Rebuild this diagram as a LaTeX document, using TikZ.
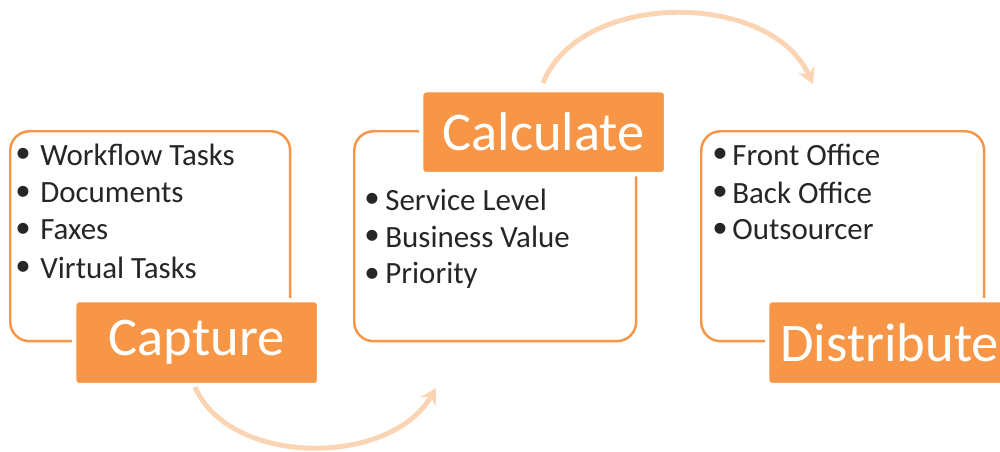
\documentclass[tikz,border=0pt]{standalone}
\usepackage{fontspec}
\setmainfont{Carlito}
\usetikzlibrary{arrows.meta}
\definecolor{orng}{HTML}{F79646}
\definecolor{peach}{HTML}{FBD4B4}
\definecolor{txt}{HTML}{262626}
\begin{document}
\begin{tikzpicture}[x=0.02cm,y=-0.02cm,
  listbox/.style={draw=orng, line width=1.4pt, rounded corners=11pt, anchor=north west, inner sep=0pt, fill=white},
  labelbox/.style={fill=orng, draw=white, line width=2.5pt, rounded corners=2.5pt, anchor=north west, inner sep=0pt, text=white, font=\fontsize{31}{37}\selectfont},
  item/.style={anchor=west, inner sep=0pt, text=txt, font=\fontsize{17.6}{21}\selectfont},
  bul/.style={anchor=center, inner sep=0pt, text=txt, font=\fontsize{17.6}{21}\selectfont},
  flow/.style={draw=peach, line width=2.8pt, -{Stealth[length=9pt,width=10pt,inset=3pt]}}]
\useasboundingbox (0,0) rectangle (1000,451);
% list boxes
\node[listbox, minimum width=5.6cm, minimum height=4.2cm] (b1) at (9,130) {};
\node[listbox, minimum width=5.64cm, minimum height=4.2cm] (b2) at (353,130) {};
\node[listbox, minimum width=5.66cm, minimum height=4.2cm] (b3) at (700,130) {};
% labels
\node[labelbox, minimum width=4.9cm, minimum height=1.7cm] (cap) at (72,298) {Capture};
\node[labelbox, minimum width=4.9cm, minimum height=1.68cm] (calc) at (419,88) {Calculate};
\node[labelbox, minimum width=4.9cm, minimum height=1.7cm] (dist) at (765,298) {Distribute};
% items box 1
\node[bul] (b1a) at (23,155) {•}; \node[item] (t1a) at (40,155) {Workflow Tasks};
\node[bul] (b1b) at (23,193) {•}; \node[item] (t1b) at (40,193) {Documents};
\node[bul] (b1c) at (23,230) {•}; \node[item] (t1c) at (40,230) {Faxes};
\node[bul] (b1d) at (23,268) {•}; \node[item] (t1d) at (40,268) {Virtual Tasks};
% items box 2
\node[bul] (b2a) at (372,200) {•}; \node[item] (t2a) at (385,200) {Service Level};
\node[bul] (b2b) at (372,237) {•}; \node[item] (t2b) at (385,237) {Business Value};
\node[bul] (b2c) at (372,275) {•}; \node[item] (t2c) at (385,275) {Priority};
% items box 3
\node[bul] (b3a) at (720,155) {•}; \node[item] (t3a) at (732,155) {Front Office};
\node[bul] (b3b) at (720,193) {•}; \node[item] (t3b) at (732,193) {Back Office};
\node[bul] (b3c) at (720,230) {•}; \node[item] (t3c) at (732,230) {Outsourcer};
% arrows
\coordinate (e1) at (436,388);
\coordinate (e2) at (813,84);
\coordinate (s1) at (195,387);
\coordinate (s2) at (543,83);
\draw[flow] (s1) .. controls (230,467) and (390,467) .. (e1);
\draw[flow] (s2) .. controls (580,-10) and (770,-10) .. (e2);
\end{tikzpicture}
\end{document}
